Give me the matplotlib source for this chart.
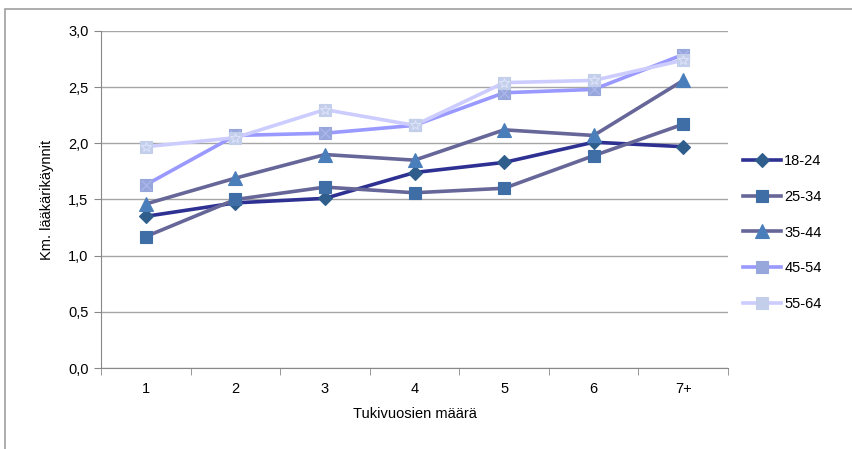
import matplotlib.pyplot as plt
from matplotlib.patches import Rectangle

plt.rcParams['font.family'] = ['Liberation Sans', 'DejaVu Sans']

categories = ['1', '2', '3', '4', '5', '6', '7+']
age_groups = ['18-24', '25-34', '35-44', '45-54', '55-64']

v_18_24 = [1.35, 1.47, 1.51, 1.74, 1.83, 2.01, 1.97]
v_25_34 = [1.17, 1.50, 1.61, 1.56, 1.60, 1.89, 2.17]
v_35_44 = [1.46, 1.69, 1.90, 1.85, 2.12, 2.07, 2.56]
v_45_54 = [1.63, 2.07, 2.09, 2.16, 2.45, 2.48, 2.79]
v_55_64 = [1.97, 2.05, 2.30, 2.16, 2.54, 2.56, 2.74]

series = [v_18_24, v_25_34, v_35_44, v_45_54, v_55_64]
line_colors = ['#2E3192', '#666699', '#666699', '#9999FF', '#CCCCFF']
marker_colors = ['#2F5D8C', '#3F6EA6', '#4A7EBB', '#97A6DB', '#C3CEEA']
markers = ['D', 's', '^', 's', 's']
msizes = [7, 9, 9.5, 9, 9]
overlay = [None, None, None, 'x', '*']
overlay_col = [None, None, None, '#B0B8F0', '#DDE2FA']

fig = plt.figure(figsize=(8.53, 4.49), dpi=100)
ax = fig.add_axes([0.1184, 0.1804, 0.7351, 0.7506])

x = list(range(1, len(categories) + 1))
handles = []
for i in range(len(series)):
    h, = ax.plot(x, series[i], color=line_colors[i], lw=2.6, marker=markers[i],
                 ms=msizes[i], mfc=marker_colors[i], mec=marker_colors[i],
                 mew=0.8, label=age_groups[i], zorder=3 + i)
    if overlay[i]:
        ax.plot(x, series[i], ls='none', marker=overlay[i], ms=7,
                mfc='none', mec=overlay_col[i], mew=0.8, zorder=3 + i)
    handles.append(h)

ax.set_xlim(0.5, 7.5)
ax.set_ylim(0, 3.0)
ax.set_xticks(x)
ax.set_xticklabels(categories)
ax.set_yticks([0, 0.5, 1.0, 1.5, 2.0, 2.5, 3.0])
ax.set_yticklabels(['0,0', '0,5', '1,0', '1,5', '2,0', '2,5', '3,0'])
ax.set_xticks([0.5 + k for k in range(8)], minor=True)
ax.tick_params(axis='x', which='major', length=0, pad=10, labelsize=10.5)
ax.tick_params(axis='x', which='minor', length=5, color='#888888', direction='out')
ax.tick_params(axis='y', length=5, color='#888888', labelsize=10.5, pad=4)

ax.grid(axis='y', color='#A6A6A6', lw=1)
ax.set_axisbelow(True)
for s in ['top', 'right']:
    ax.spines[s].set_visible(False)
for s in ['left', 'bottom']:
    ax.spines[s].set_color('#888888')

ax.set_xlabel('Tukivuosien määrä', fontsize=10.5, labelpad=8)
ax.set_ylabel('Km. lääkärikäynnit', fontsize=10.5, labelpad=10)

fig.legend(handles=handles, loc='center left', bbox_to_anchor=(0.856, 0.482),
           frameon=False, fontsize=10.5, handlelength=2.6, handletextpad=0.2,
           labelspacing=1.5)

fig.patches.append(Rectangle((5 / 853, -0.1), 1.2, 1 - 9 / 449 + 0.1,
                             transform=fig.transFigure, fill=False,
                             edgecolor='#A0A0A0', lw=1.2))

fig.savefig('out.png', dpi=100)
